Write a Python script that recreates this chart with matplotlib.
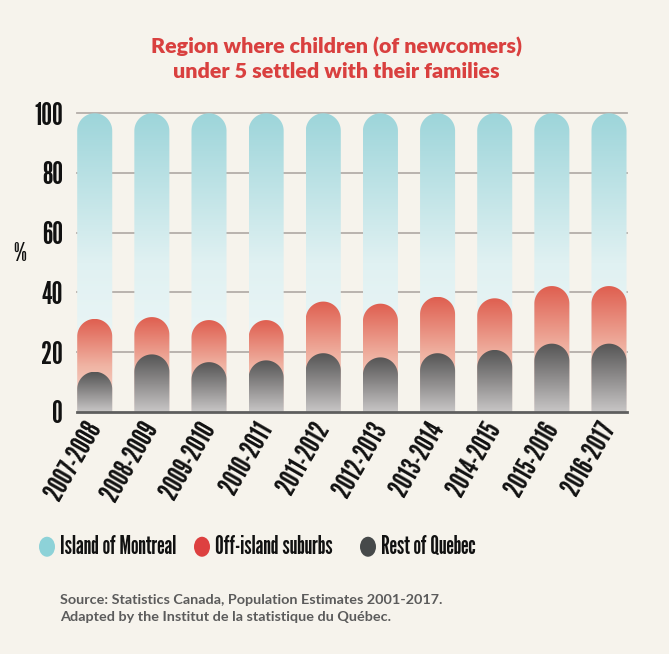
import numpy as np
import matplotlib
matplotlib.use("Agg")
import matplotlib.pyplot as plt
from matplotlib.path import Path
from matplotlib.patches import PathPatch, Ellipse
from matplotlib.colors import LinearSegmentedColormap

periods = ["2007-2008", "2008-2009", "2009-2010", "2010-2011", "2011-2012",
           "2012-2013", "2013-2014", "2014-2015", "2015-2016", "2016-2017"]
rest_of_quebec = [13.4, 19.2, 16.6, 17.2, 19.6, 18.2, 19.6, 20.7, 22.8, 22.8]
off_island = [17.7, 12.5, 14.1, 13.5, 17.3, 18.0, 18.9, 17.3, 19.3, 19.3]
island_montreal = [68.9, 68.3, 69.3, 69.3, 63.1, 63.8, 61.5, 62.0, 57.9, 57.9]
series_names = ["Island of Montreal", "Off-island suburbs", "Rest of Quebec"]

BG = "#f6f3ec"
TITLE_RED = "#d9403f"
NARROW = "League Gothic"
TEXT_FONT = "Lato"

fig = plt.figure(figsize=(6.69, 6.54), dpi=100, facecolor=BG)
renderer = fig.canvas.get_renderer()


def fit_size(text, family, weight, target_px):
    # font size at which `text` is target_px wide
    t = fig.text(0, 0, text, family=family, weight=weight, fontsize=10)
    w = t.get_window_extent(renderer).width
    t.remove()
    return 10 * target_px / w


ax_box = [0.1151, 0.3705, 0.8217, 0.4563]
ax = fig.add_axes(ax_box, facecolor=BG)

n = len(periods)
x = np.arange(n)
width = 0.613
xlim = (-0.31, n - 1 + 0.31)

# vertical radius (data units) that makes the bar caps look circular
px_x = fig.get_figwidth() * ax_box[2] * fig.dpi / (xlim[1] - xlim[0])
px_y = fig.get_figheight() * ax_box[3] * fig.dpi / 100.0
ry = (width / 2) * px_x / px_y


def capsule(xc, top):
    # bar from 0 up to `top`, with a half-round cap ending at `top`
    rx = width / 2
    base = top - ry
    t = np.linspace(0, np.pi, 40)
    verts = [(xc + rx, 0), (xc + rx, base)]
    verts += list(zip(xc + rx * np.cos(t), base + ry * np.sin(t)))
    verts += [(xc - rx, 0), (xc + rx, 0)]
    codes = [Path.MOVETO] + [Path.LINETO] * (len(verts) - 2) + [Path.CLOSEPOLY]
    return Path(verts, codes)


cmaps = [
    LinearSegmentedColormap.from_list("blue", ["#f3f9f9", "#e0f1f2", "#9dd5da"]),
    LinearSegmentedColormap.from_list("red", ["#fae3da", "#f0b3a3", "#df5f50"]),
    LinearSegmentedColormap.from_list("grey", ["#c8c6c6", "#8e8c8c", "#555555"]),
]

# gridlines behind the bars
for g in [20, 40, 60, 80, 100]:
    ax.axhline(g, color="#b4aea9", lw=1.3, zorder=0, clip_on=False)

rest = np.array(rest_of_quebec)
tops = [rest + np.array(off_island) + np.array(island_montreal),
        rest + np.array(off_island),
        rest]

grad = np.linspace(0, 1, 256).reshape(-1, 1)
for layer, (levels, cmap) in enumerate(zip(tops, cmaps)):
    for xi, top in zip(x, levels):
        patch = PathPatch(capsule(xi, top), facecolor="none", edgecolor="none")
        ax.add_patch(patch)
        im = ax.imshow(grad, cmap=cmap, origin="lower", aspect="auto",
                       extent=[xi - width / 2, xi + width / 2, 0, top],
                       zorder=2 + layer, interpolation="bilinear")
        im.set_clip_path(patch)

ax.set_xlim(*xlim)
ax.set_ylim(0, 100)

for s in ["top", "right", "left"]:
    ax.spines[s].set_visible(False)
ax.spines["bottom"].set_color("#5e5e5e")
ax.spines["bottom"].set_linewidth(2)
ax.spines["bottom"].set_zorder(10)

ax.set_yticks([0, 20, 40, 60, 80, 100])
ax.tick_params(axis="y", length=0, pad=10)
ax.tick_params(axis="x", length=0, pad=9)
ytick_size = fit_size("100", NARROW, "normal", 29)
for lab in ax.get_yticklabels():
    lab.set_fontfamily(NARROW)
    lab.set_fontsize(ytick_size)
    lab.set_color("#111111")

ax.set_xticks(x)
ax.set_xticklabels(periods, rotation=60, ha="right", va="center",
                   rotation_mode="anchor", fontfamily=NARROW,
                   fontsize=fit_size("2007-2008", NARROW, "normal", 86),
                   color="#111111")

fig.text(0.030, 0.612, "%", fontfamily=NARROW, fontsize=ytick_size * 0.85,
         color="#111111", ha="center", va="center")

title = "Region where children (of newcomers)\nunder 5 settled with their families"
fig.text(0.503, 0.910, title, ha="center", va="center", fontfamily=TEXT_FONT,
         fontweight="heavy", color=TITLE_RED, linespacing=1.35,
         fontsize=fit_size(title.split("\n")[0], TEXT_FONT, "heavy", 373))

# legend row
legend_colors = ["#8dd2d8", "#dd4040", "#46494a"]
legend_x = [47, 202, 368]
legend_size = fit_size(series_names[0], NARROW, "normal", 116)
for name, col, lx in zip(series_names, legend_colors, legend_x):
    fig.add_artist(Ellipse((lx / 669, 0.164), 16 / 669, 20 / 654,
                           facecolor=col, edgecolor="none",
                           transform=fig.transFigure))
    fig.text((lx + 13) / 669, 0.164, name, fontfamily=NARROW,
             fontsize=legend_size, color="#111111", ha="left", va="center")

note = ("Source: Statistics Canada, Population Estimates 2001-2017.\n"
        "Adapted by the Institut de la statistique du Québec.")
fig.text(0.090, 0.0696, note, ha="left", va="center", fontfamily=TEXT_FONT,
         fontweight="bold", color="#5b5b5b", linespacing=1.55,
         fontsize=fit_size(note.split("\n")[0], TEXT_FONT, "bold", 383))

fig.savefig("out.png", dpi=100, facecolor=BG)
